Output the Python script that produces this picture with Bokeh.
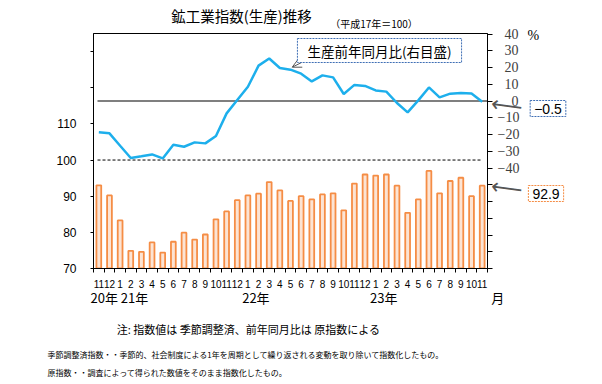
from bokeh.plotting import figure
from bokeh.models import (Range1d, LinearAxis, FixedTicker, Label, Arrow,
                          OpenHead, ColumnDataSource)
from bokeh.embed import file_html
from bokeh.resources import INLINE
import math

# ---------------- data ----------------
months = ["11", "12",
          "1", "2", "3", "4", "5", "6", "7", "8", "9", "10", "11", "12",
          "1", "2", "3", "4", "5", "6", "7", "8", "9", "10", "11", "12",
          "1", "2", "3", "4", "5", "6", "7", "8", "9", "10", "11"]
production = [93.0, 90.2, 83.3, 74.9, 74.6, 77.2, 74.4, 77.4, 79.9, 78.0, 79.4, 83.6,
              85.8, 88.9, 90.2, 90.7, 93.9, 91.6, 88.7, 90.0, 89.1, 90.5, 90.8, 86.1,
              93.5, 96.0, 95.7, 96.0, 92.9, 85.4, 89.1, 97.0, 90.8, 94.2, 95.1, 90.0, 92.9]
yoy = [-18.7, -19.3, -26.7, -34.0, -33.0, -31.9, -34.3, -26.1, -27.3, -24.7, -25.3, -20.9,
       -7.4, 0.6, 8.5, 21.1, 25.4, 19.7, 18.7, 16.3, 11.7, 15.3, 14.1, 4.2,
       9.6, 9.0, 6.3, 5.6, -1.2, -6.8, 0.4, 8.1, 2.2, 4.4, 4.8, 4.5, -0.5]
year_labels = ["20年", "21年", "22年", "23年"]
month_unit = "月"
left_ticks = [70, 80, 90, 100, 110, 120, 130]
right_ticks = list(range(-100, 41, 10))

idx = list(range(len(months)))
N = len(months)

# ---------------- geometry (canvas px) ----------------
W, H = 602, 384
FL, FR, FT, FB = 93, 487, 33, 268
YMIN, YMAX = 70, 135
RMIN, RMAX = -100, 40.3


def X(px):
    return -0.5 + (px - FL) * N / (FR - FL)


def Y(py):
    return YMIN + (FB - py) * (YMAX - YMIN) / (FB - FT)


JP = "Noto Sans CJK JP"

p = figure(width=W, height=H, x_range=Range1d(-0.5, N - 0.5), y_range=Range1d(YMIN, YMAX),
           output_backend="svg", toolbar_location=None,
           min_border_left=FL, min_border_right=W - FR, min_border_top=FT,
           min_border_bottom=H - FB)
p.extra_y_ranges = {"right": Range1d(RMIN, RMAX)}
p.xgrid.visible = False
p.ygrid.visible = False
p.outline_line_color = "black"
p.outline_line_width = 1
p.background_fill_color = "white"
p.border_fill_color = "white"

# left axis
yl = p.yaxis[0]
yl.ticker = FixedTicker(ticks=left_ticks)
yl.major_label_overrides = {t: "" for t in left_ticks if t > 110}
yl.major_tick_out = 3
yl.major_tick_in = 0
yl.minor_tick_out = 0
yl.minor_tick_in = 0
yl.axis_line_color = "black"
yl.major_label_standoff = 14
yl.major_label_text_font = "Liberation Sans"
yl.major_label_text_font_size = "12px"
yl.major_label_text_color = "black"

# bottom axis
xa = p.xaxis[0]
xa.ticker = FixedTicker(ticks=idx, minor_ticks=[i - 0.5 for i in range(N + 1)])
xa.major_label_overrides = {i: m for i, m in zip(idx, months)}
xa.major_tick_out = 0
xa.major_tick_in = 0
xa.minor_tick_out = 4
xa.minor_tick_in = 0
xa.minor_tick_line_color = "black"
xa.major_label_standoff = 7
xa.major_label_text_font = "Liberation Sans"
xa.major_label_text_font_size = "10px"
xa.major_label_text_color = "black"
xa.axis_line_color = "black"

# right axis (labels padded with figure spaces so they line up on the right)
FS = "\u2007"


def rlabel(t):
    if t < -40:
        return ""
    if t < 0:
        return "\u2212" + str(-t)
    s = str(t)
    return FS * (3 - len(s)) + s


ra = LinearAxis(y_range_name="right", ticker=FixedTicker(ticks=right_ticks))
ra.major_label_overrides = {t: rlabel(t) for t in right_ticks}
ra.major_tick_out = 5
ra.major_tick_in = 0
ra.minor_tick_out = 0
ra.minor_tick_in = 0
ra.major_label_standoff = 5
ra.major_label_text_font = "Liberation Serif"
ra.major_label_text_font_size = "14px"
ra.major_label_text_color = "#404040"
ra.axis_line_color = "black"
p.add_layout(ra, "right")

# reference lines
p.segment(x0=[X(97)], y0=[100], x1=[X(480)], y1=[100], line_color="black",
          line_width=1, line_dash="3 2")
p.segment(x0=[X(97)], y0=[0], x1=[N - 0.5], y1=[0], y_range_name="right",
          line_color="black", line_width=1.2)

# bars
src = ColumnDataSource(dict(x=idx, top=production, yoy=yoy))
p.vbar(x="x", top="top", bottom=YMIN, width=0.45, source=src,
       fill_color="#FCE4D4", line_color="#F58D45", line_width=1.8)

# yoy line
p.line(x="x", y="yoy", source=src, y_range_name="right",
       line_color="#1DAFEC", line_width=2.5)


def dlabel(px, py, text, size, side, align="center", font=JP, color="black", **kw):
    lab = Label(x=X(px), y=Y(py), text=text, text_align=align, text_baseline="middle",
                text_font=font, text_font_size=size, text_color=color, **kw)
    if side == "center":
        p.add_layout(lab)
    else:
        p.add_layout(lab, side)


# ---------------- texts ----------------
dlabel(241, 14.5, "鉱工業指数(生産)推移", "14.5px", "above")
dlabel(373.5, 22.5, "（平成17年＝100）", "10px", "below")
dlabel(527, 35, "%", "14px", "left", align="left", font="Liberation Serif")

# arrow to the series line (inside the plot area)
p.add_layout(Arrow(x_start=X(301.7), y_start=Y(61.7), x_end=X(291.7), y_end=Y(66.7),
                   line_color="#555555", line_width=1,
                   end=OpenHead(size=9, line_color="#555555", line_width=1)))

# leader arrows beside the right axis (drawn as long-arrow characters)
tilt = -math.atan2(5.5, 41)
dlabel(506.5, 105.0, "\u27f5", "22px", "left", font="DejaVu Sans", color="#555555",
       angle=tilt)
dlabel(506.5, 187.3, "\u27f5", "22px", "below", font="DejaVu Sans", color="#555555",
       angle=tilt)

dlabel(379, 50, "生産前年同月比(右目盛)", "13.5px", "center", border_line_color="#3F6FB5",
       border_line_dash="2 1", border_line_width=1, background_fill_color="white",
       padding=(10, 2))
dlabel(547.5, 108, "\u2212" + f"{abs(yoy[-1]):.1f}", "14px", "right", font="Liberation Sans",
       border_line_color="#3F6FB5", border_line_dash="2 1", border_line_width=1,
       background_fill_color="white", padding=(4, 3))
dlabel(545.5, 193, f"{production[-1]:.1f}", "14px", "right", font="Liberation Sans",
       border_line_color="#F58D45", border_line_dash="2 1", border_line_width=1,
       background_fill_color="white", padding=(4, 3))

# year labels and month unit (one row, spaced with ideographic / en spaces)
IS, ES = "\u3000", "\u2002"
year_row = (year_labels[0] + " " + year_labels[1] + IS * 7 + " " + year_labels[2]
            + IS * 7 + ES + " " + year_labels[3] + IS * 7 + " " + month_unit)
dlabel(90, 297, year_row, "13px", "below", align="left")

# notes
dlabel(248, 328, "注: 指数値は 季節調整済、前年同月比は 原指数による", "11px", "below")
dlabel(47, 354,
       "季節調整済指数・・季節的、社会制度による1年を周期として繰り返される変動を取り除いて指数化したもの。",
       "8px", "below", align="left")
dlabel(47, 372, "原指数・・調査によって得られた数値をそのまま指数化したもの。",
       "8px", "above", align="left")

open("out.html", "w").write(file_html(p, INLINE))
